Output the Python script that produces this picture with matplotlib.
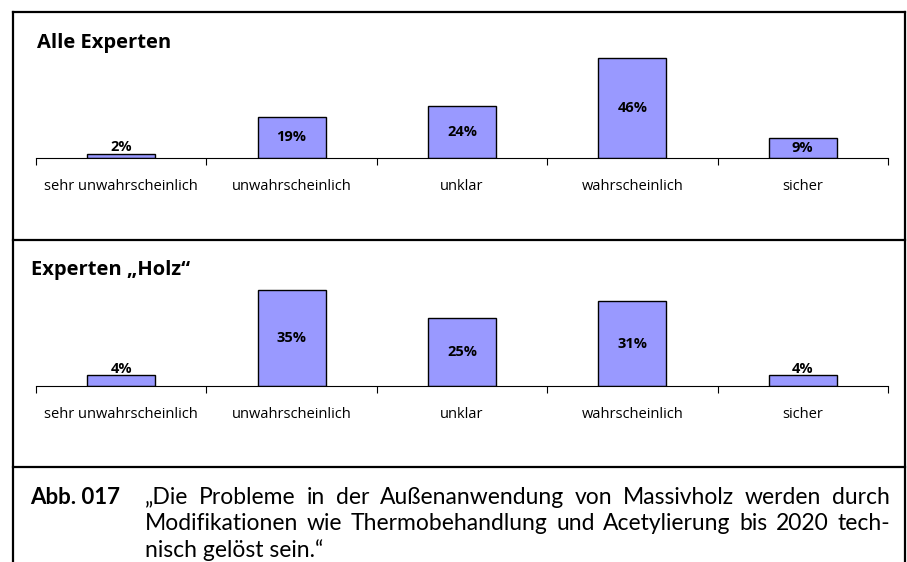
import matplotlib
matplotlib.use("Agg")
import matplotlib.pyplot as plt
from matplotlib.lines import Line2D

categories = ["sehr unwahrscheinlich", "unwahrscheinlich", "unklar", "wahrscheinlich", "sicher"]
alle_experten = [2, 19, 24, 46, 9]
experten_holz = [4, 35, 25, 31, 4]
titles = ["Alle Experten", "Experten \u201eHolz\u201c"]
caption_label = "Abb. 017"
caption_lines = [
    "\u201eDie Probleme in der Au\u00dfenanwendung von Massivholz werden durch",
    "Modifikationen wie Thermobehandlung und Acetylierung bis 2020 tech-",
    "nisch gel\u00f6st sein.\u201c",
]

W, H = 907, 562
fig = plt.figure(figsize=(W / 100, H / 100), dpi=100)
plt.rcParams['font.family'] = ['Open Sans', 'DejaVu Sans']


def fx(px):
    return px / W


def fy(py):
    return 1 - py / H


# outer frame and dividers
for x0, y0, x1, y1 in [(13, 12, 905, 12), (13, 12, 13, 562), (905, 12, 905, 562),
                       (13, 240, 905, 240), (13, 467, 905, 467)]:
    fig.add_artist(Line2D([fx(x0), fx(x1)], [fy(y0), fy(y1)], color='black', lw=1.6))


def draw_panel(values, title, base_py, px_per_pct, title_x, title_y):
    top_py = base_py - 110
    ax = fig.add_axes([fx(36), fy(base_py), fx(888) - fx(36), (base_py - top_py) / H])
    x = range(len(values))
    bars = ax.bar(x, values, width=0.4, color='#9999ff', edgecolor='black', linewidth=1)
    ax.set_xlim(-0.5, len(values) - 0.5)
    ax.set_ylim(0, 110 / px_per_pct)
    for b, v in zip(bars, values):
        cx = b.get_x() + b.get_width() / 2
        if v < 8:
            ax.text(cx, v - 0.3, f"{v}%", ha='center', va='bottom', fontsize=10.5, fontweight='bold')
        else:
            ax.text(cx, v / 2, f"{v}%", ha='center', va='center', fontsize=10.5, fontweight='bold')
    for s in ['top', 'left', 'right']:
        ax.spines[s].set_visible(False)
    ax.spines['bottom'].set_linewidth(0.8)
    ax.set_yticks([])
    ax.set_xticks(list(x))
    ax.set_xticklabels(categories, fontsize=10.5)
    ax.tick_params(axis='x', which='major', length=0, pad=15)
    ax.set_xticks([i - 0.5 for i in range(len(values) + 1)], minor=True)
    ax.tick_params(axis='x', which='minor', length=5, width=0.8, direction='out')
    fig.text(fx(title_x), fy(title_y), title, fontsize=14.5, fontweight='bold', va='center', ha='left')
    return ax


draw_panel(alle_experten, titles[0], 158, 2.17, 37, 43)
draw_panel(experten_holz, titles[1], 386, 2.74, 31, 270)

# caption
cap_font = dict(fontsize=16.5, family=['Lato', 'DejaVu Sans'])
fig.text(fx(30), fy(497), caption_label, fontweight='bold', va='center', ha='left',
         fontsize=16, family=['Lato', 'DejaVu Sans'])

renderer = fig.canvas.get_renderer()
left, right = 145, 890
line_y = [497, 524, 550]
for i, line in enumerate(caption_lines):
    if i == len(caption_lines) - 1:
        fig.text(fx(left), fy(line_y[i]), line, va='center', ha='left', **cap_font)
        continue
    words = line.split(' ')
    arts = [fig.text(0, fy(line_y[i]), w, va='center', ha='left', **cap_font) for w in words]
    widths = [a.get_window_extent(renderer).width for a in arts]
    gap = (right - left - sum(widths)) / (len(words) - 1)
    xpos = left
    for a, w in zip(arts, widths):
        a.set_x(fx(xpos))
        xpos += w + gap

fig.savefig("out.png", dpi=100)
